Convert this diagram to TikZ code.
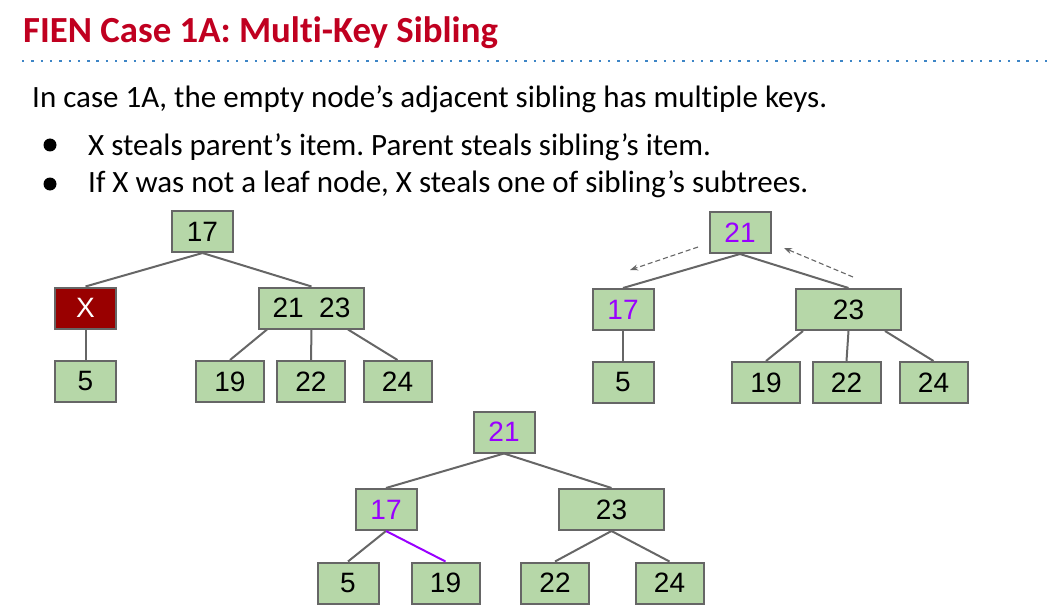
\documentclass[tikz,border=0pt]{standalone}
\usepackage{fontspec}
\setmainfont{Carlito}[Ligatures={NoCommon}]
\newfontfamily\arialf{Liberation Sans}
\usetikzlibrary{arrows.meta,calc}
\definecolor{titlered}{HTML}{C00020}
\definecolor{dotblue}{HTML}{3D85C6}
\definecolor{nodegreen}{HTML}{B6D7A8}
\definecolor{xred}{HTML}{990000}
\definecolor{edgegray}{HTML}{666666}
\definecolor{keypurple}{HTML}{9900FF}
\frenchspacing
\tikzset{
  keybox/.style={draw=edgegray, line width=2pt, fill=nodegreen, inner sep=0pt,
    minimum height=41pt, font=\arialf\fontsize{28}{30}\selectfont, text=black},
  narrow/.style={keybox, minimum width=61pt},
  leaf/.style={keybox, minimum width=68pt},
  wide/.style={keybox, minimum width=105pt},
  xbox/.style={keybox, minimum width=61pt, fill=xred, text=white},
  tedge/.style={draw=edgegray, line width=2pt},
  moveedge/.style={draw=keypurple, line width=2pt},
  hint/.style={draw=edgegray, line width=1.1pt, dash pattern=on 5pt off 3pt, -{Stealth[length=8pt,width=6pt]}},
  bodytext/.style={anchor=base west, inner sep=0pt, font=\fontsize{31}{34}\selectfont},
  bullet/.style={circle, fill=black, inner sep=0pt, minimum size=13pt}
}
\begin{document}
\begin{tikzpicture}[x=1pt,y=-1pt]
\useasboundingbox (0,0) rectangle (1052,615);
% title
\node[anchor=base west, inner sep=0pt, text=titlered, font=\bfseries\fontsize{36.8}{40}\selectfont] (title) at (23,43) {FIEN Case 1A: Multi-Key Sibling};
\coordinate (dl) at (22,61);
\coordinate (dr) at (1050,61);
\draw[dotblue, line width=2.4pt, dash pattern=on 2.4pt off 6.9pt] (dl) -- (dr);
% body
\node[bodytext] (l1) at (32,108) {In case 1A, the empty node’s adjacent sibling has multiple keys.};
\node[bullet] (b1) at (50,145) {};
\node[bodytext] (l2) at (88,155) {X steals parent’s item. Parent steals sibling’s item.};
\node[bullet] (b2) at (50,184) {};
\node[bodytext] (l3) at (88,193) {If X was not a leaf node, X steals one of sibling’s subtrees.};
% tree 1
\node[narrow] (a17) at (202.5,231.5) {17};
\node[xbox] (ax) at (85.5,308) {X};
\node[wide] (a2123) at (311.5,308) {21\hspace{0.55em}23};
\node[narrow] (a5) at (85.5,381.5) {5};
\node[leaf] (a19) at (230,381.5) {19};
\node[leaf] (a22) at (311,381.5) {22};
\node[leaf] (a24) at (397.5,381.5) {24};
\draw[tedge] (a17.south) -- (ax.north);
\draw[tedge] (a17.south) -- (a2123.north);
\draw[tedge] (ax.south) -- (a5.north);
\draw[tedge] ([xshift=-44.5pt]a2123.south) -- (a19.north);
\draw[tedge] (a2123.south) -- (a22.north);
\draw[tedge] ([xshift=36.5pt]a2123.south) -- (a24.north);
% tree 2
\node[narrow, text=keypurple] (b21) at (740,232.5) {21};
\node[narrow, text=keypurple] (b17) at (623,309.5) {17};
\node[wide] (b23) at (848.5,309.5) {23};
\node[narrow] (b5) at (623,382.5) {5};
\node[leaf] (b19) at (766,382.5) {19};
\node[leaf] (b22) at (846.5,382.5) {22};
\node[leaf] (b24) at (933.5,382.5) {24};
\draw[tedge] (b21.south) -- (b17.north);
\draw[tedge] (b21.south) -- (b23.north);
\draw[tedge] (b17.south) -- (b5.north);
\draw[tedge] ([xshift=-45.5pt]b23.south) -- (b19.north);
\draw[tedge] (b23.south) -- (b22.north);
\draw[tedge] ([xshift=36.5pt]b23.south) -- (b24.north);
\coordinate (h1s) at (698,247);
\coordinate (h1e) at (630,270);
\coordinate (h2s) at (853,277);
\coordinate (h2e) at (784,248);
\draw[hint] (h1s) -- (h1e);
\draw[hint] (h2s) -- (h2e);
% tree 3
\node[narrow, text=keypurple] (c21) at (504,432) {21};
\node[narrow, text=keypurple] (c17) at (386,509.5) {17};
\node[wide] (c23) at (611.5,509.5) {23};
\node[narrow] (c5) at (348,583) {5};
\node[leaf] (c19) at (445.5,583) {19};
\node[leaf] (c22) at (555,583) {22};
\node[leaf] (c24) at (669.5,583) {24};
\draw[tedge] (c21.south) -- (c17.north);
\draw[tedge] (c21.south) -- (c23.north);
\draw[tedge] (c17.south) -- (c5.north);
\draw[moveedge] (c17.south) -- (c19.north);
\draw[tedge] (c23.south) -- (c22.north);
\draw[tedge] (c23.south) -- (c24.north);
\end{tikzpicture}
\end{document}
